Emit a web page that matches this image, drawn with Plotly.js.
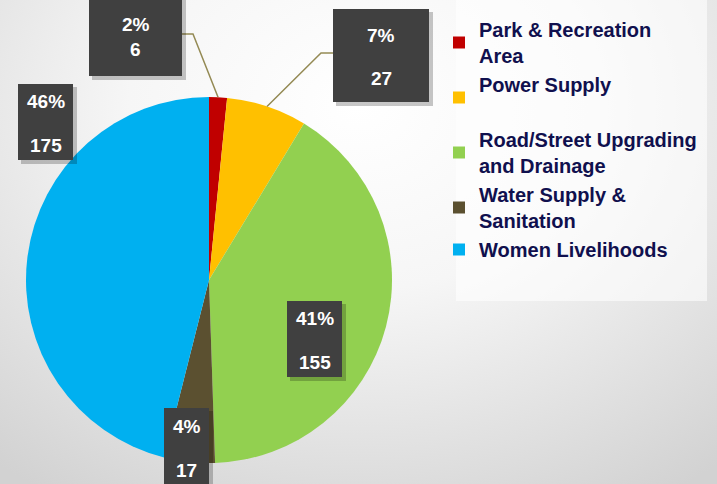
<!DOCTYPE html>
<html><head><meta charset="utf-8">
<script src="https://cdn.plot.ly/plotly-3.0.1.min.js"></script>
<style>
html,body{margin:0;padding:0;background:#fff;}
#chart{width:717px;height:484px;background:radial-gradient(ellipse 80% 95% at 50% 22%, #ffffff 0%, #f6f6f6 40%, #d2d2d2 100%);}
</style></head><body><div id="chart"></div>
<script>
// ---- data ----
const categories = ['Park & Recreation<br>Area', 'Power Supply<br> ', 'Road/Street Upgrading<br>and Drainage', 'Water Supply &<br>Sanitation', 'Women Livelihoods'];
const values = [6, 27, 155, 17, 175];
const colors = ['#c00000', '#ffc000', '#92d050', '#5b5030', '#00b0f0'];

// ---- layout helpers ----
const W = 717, H = 484;
const px = v => v / W;
const py = v => 1 - v / H;
const cx = 209, cy = 280, R = 183;
// label boxes in px: [left, top, right, bottom, pctCenterY, valCenterY]
const boxes = [
  [89, -10, 182, 76, 24, 49],
  [333, 9, 429, 102, 35, 78],
  [287, 301, 342, 377, 318, 362],
  [164, 408, 209, 494, 426, 470],
  [18, 84, 73, 160, 101, 145]
];
const total = values.reduce((a, b) => a + b, 0);
const shapes = [];
const annotations = [];

// legend panel
shapes.push({type: 'rect', xref: 'paper', yref: 'paper', x0: px(456), x1: px(707), y0: py(301), y1: py(-2),
  fillcolor: 'rgba(255,255,255,0.6)', line: {width: 0}, layer: 'below'});

// slice mid points on the rim
let cum = 0;
const mids = values.map(v => {
  const th = (cum + v / 2) / total * 2 * Math.PI;
  cum += v;
  return [cx + R * Math.sin(th), cy - R * Math.cos(th)];
});

// leader lines for the two small top slices
const elbows = [[[182, 34], [193, 34]], [[333, 53], [321, 53]]];
elbows.forEach((pts, i) => {
  const all = pts.concat([mids[i]]);
  const d = all.map((p, k) => (k ? 'L' : 'M') + px(p[0]) + ',' + py(p[1])).join(' ');
  shapes.push({type: 'path', xref: 'paper', yref: 'paper', path: d, line: {color: '#948a54', width: 1.5}});
});

boxes.forEach((b, i) => {
  // shadow
  shapes.push({type: 'rect', xref: 'paper', yref: 'paper', x0: px(b[0] + 3), x1: px(b[2] + 4), y0: py(b[3] + 4), y1: py(b[1] + 3),
    fillcolor: 'rgba(0,0,0,0.22)', line: {width: 0}});
  shapes.push({type: 'rect', xref: 'paper', yref: 'paper', x0: px(b[0]), x1: px(b[2]), y0: py(b[3]), y1: py(b[1]),
    fillcolor: '#404040', line: {width: 0}});
  const xc = px((b[0] + b[2]) / 2);
  const f = {family: 'Liberation Sans, Arial, sans-serif', size: 19, color: '#ffffff', weight: 'bold'};
  annotations.push({xref: 'paper', yref: 'paper', x: xc, y: py(b[4]), text: Math.round(values[i] / total * 100) + '%',
    showarrow: false, font: f, xanchor: 'center', yanchor: 'middle'});
  annotations.push({xref: 'paper', yref: 'paper', x: xc, y: py(b[5]), text: String(values[i]),
    showarrow: false, font: f, xanchor: 'center', yanchor: 'middle'});
});

const data = [{
  type: 'pie', labels: categories, values: values, sort: false, direction: 'clockwise', rotation: 0,
  marker: {colors: colors, line: {width: 0}}, textinfo: 'none', hoverinfo: 'skip',
  domain: {x: [px(cx - R), px(cx + R)], y: [py(cy + R), py(cy - R)]}
}];

const layout = {
  width: W, height: H, margin: {l: 0, r: 0, t: 0, b: 0},
  paper_bgcolor: 'rgba(0,0,0,0)', plot_bgcolor: 'rgba(0,0,0,0)',
  showlegend: true,
  legend: {x: px(439), xanchor: 'left', y: py(10), yanchor: 'top', bgcolor: 'rgba(0,0,0,0)',
    font: {family: 'Liberation Sans, Arial, sans-serif', size: 20, color: '#10104e', weight: 'bold'},
    traceorder: 'normal'},
  shapes: shapes, annotations: annotations
};
Plotly.newPlot('chart', data, layout, {displayModeBar: false, staticPlot: true});
</script></body></html>
